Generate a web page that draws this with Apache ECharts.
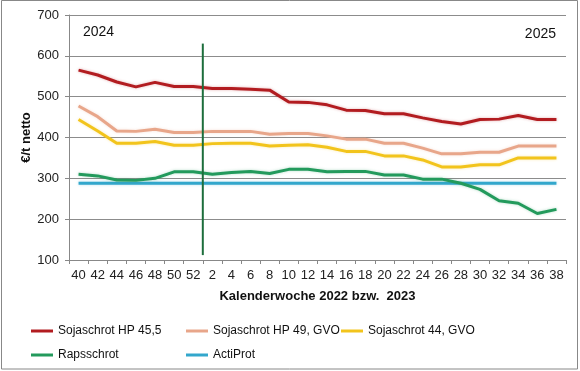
<!DOCTYPE html>
<html>
<head>
<meta charset="utf-8">
<script src="https://cdn.jsdelivr.net/npm/echarts@6/dist/echarts.min.js"></script>
<style>
html,body{margin:0;padding:0;background:#fff;}
#chart{width:580px;height:371px;}
</style>
</head>
<body>
<div id="chart"></div>
<script>
// Categories: calendar weeks
const weeks = ['40','42','44','46','48','50','52','2','4','6','8','10','12','14','16','18','20','22','24','26','28','30','32','34','36','38'];

// Series values (€/t netto)
const sojaHP455   = [565,553,536,524,535,525,525,520,520,518,516,487,486,480,467,466,458,458,448,439,433,444,445,454,444,444];
const sojaHP49GVO = [477,451,416,415,420,412,412,415,415,415,408,410,410,404,396,396,386,386,374,360,360,364,364,379,379,379];
const soja44GVO   = [444,416,386,386,390,381,381,385,386,386,379,381,382,376,366,366,355,355,345,328,328,333,333,350,350,350];
const rapsschrot  = [310,306,296,295,300,316,316,310,314,317,312,322,322,316,317,317,308,308,298,298,288,273,245,239,214,224];
const actiProt    = [288,288,288,288,288,288,288,288,288,288,288,288,288,288,288,288,288,288,288,288,288,288,288,288,288,288];

// Year divider (vertical line between week 52 and week 2), value range
const dividerRange = [112, 630];
const yearLabels = ['2024', '2025'];

// Axis ticks
const yMin = 100, yMax = 700, yStep = 100;

const names = ['Sojaschrot HP 45,5','Sojaschrot HP 49, GVO','Sojaschrot 44, GVO','Rapsschrot','ActiProt'];
const values = [sojaHP455, sojaHP49GVO, soja44GVO, rapsschrot, actiProt];
const colors = ['#b21c20','#e8a68a','#f2c41c','#239a5c','#33a7cc'];

const dividerIdx = weeks.indexOf('2');
const dividerData = dividerRange.map(v => [dividerIdx, v]);

const chart = echarts.init(document.getElementById('chart'), null, {renderer:'canvas'});

const fontFam = '"Liberation Sans", Arial, sans-serif';

const series = names.map((n, i) => ({
  name: n,
  type: 'line',
  data: values[i],
  symbol: 'none',
  smooth: false,
  lineStyle: {color: colors[i], width: 3, shadowColor: colors[i] + '55', shadowBlur: 3},
  itemStyle: {color: colors[i]},
  z: 3 + (names.length - i)
}));
series.push({
  name: 'divider',
  type: 'line',
  xAxisIndex: 1,
  data: dividerData,
  symbol: 'none',
  lineStyle: {color: '#1d6e3c', width: 2},
  z: 10,
  silent: true
});

const legendPos = [
  {left: 31, top: 325},
  {left: 186, top: 325},
  {left: 341, top: 325},
  {left: 31, top: 349},
  {left: 186, top: 349}
];

const legends = names.map((n, i) => ({
  data: [n],
  left: legendPos[i].left,
  top: legendPos[i].top,
  padding: 0,
  icon: 'rect',
  itemWidth: 22,
  itemHeight: 3,
  selectedMode: false,
  textStyle: {fontSize: 12, color: '#111', fontFamily: fontFam}
}));

chart.setOption({
  animation: false,
  backgroundColor: '#fff',
  textStyle: {fontFamily: fontFam},
  grid: {left: 69, right: 14, top: 15, bottom: 111, containLabel: false},
  legend: legends,
  xAxis: [{
    type: 'category',
    data: weeks,
    boundaryGap: true,
    name: 'Kalenderwoche 2022 bzw.  2023',
    nameLocation: 'middle',
    nameGap: 30,
    nameMoveOverlap: false,
    nameTextStyle: {fontSize: 13, fontWeight: 'bold', color: '#111', fontFamily: fontFam},
    axisLine: {lineStyle: {color: '#888', width: 1}},
    axisTick: {show: true, length: 4, lineStyle: {color: '#888'}, interval: 0},
    axisLabel: {interval: 0, fontSize: 13, color: '#222', margin: 9, fontFamily: fontFam},
    splitLine: {show: false}
  }, {
    type: 'value',
    min: 0,
    max: weeks.length,
    show: false
  }],
  yAxis: {
    type: 'value',
    min: yMin,
    max: yMax,
    interval: yStep,
    name: '€/t netto',
    nameLocation: 'middle',
    nameGap: 36,
    nameMoveOverlap: false,
    nameTextStyle: {fontSize: 13, fontWeight: 'bold', color: '#111', fontFamily: fontFam},
    axisLine: {show: true, lineStyle: {color: '#888', width: 1}},
    axisTick: {show: true, length: 4, lineStyle: {color: '#888'}},
    axisLabel: {fontSize: 13, color: '#222', margin: 10, fontFamily: fontFam},
    splitLine: {show: true, lineStyle: {color: '#8c8c8c', width: 1}}
  },
  graphic: [
    {type: 'rect', shape: {x: 1.5, y: 0.5, width: 576, height: 368.5}, style: {fill: 'none', stroke: '#888', lineWidth: 1}, silent: true, z: 100},
    {type: 'text', left: 83, top: 25, style: {text: yearLabels[0], fontSize: 14, fill: '#111', fontFamily: fontFam}},
    {type: 'text', right: 24, top: 27, style: {text: yearLabels[1], fontSize: 14, fill: '#111', fontFamily: fontFam}}
  ],
  series: series
});
</script>
</body>
</html>
